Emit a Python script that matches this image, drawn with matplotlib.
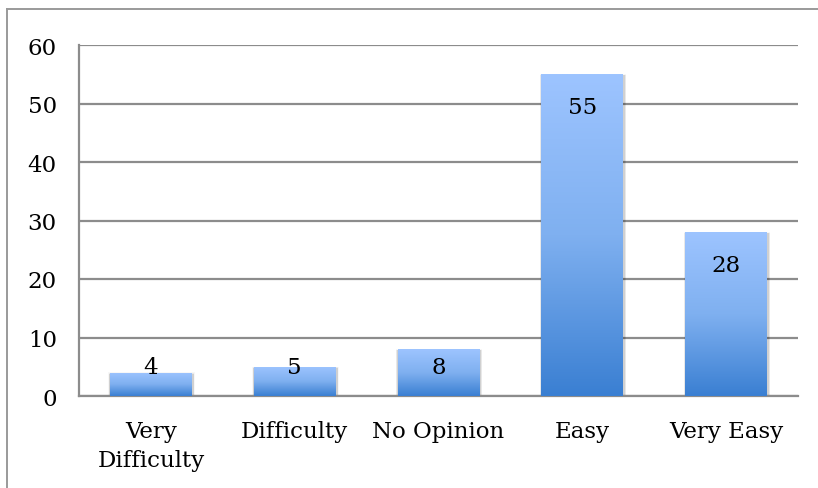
import numpy as np
import matplotlib
matplotlib.use("Agg")
import matplotlib.pyplot as plt
from matplotlib.colors import LinearSegmentedColormap
from matplotlib.lines import Line2D

categories = ["Very\nDifficulty", "Difficulty", "No Opinion", "Easy", "Very Easy"]
counts = [4, 5, 8, 55, 28]
yticks = [0, 10, 20, 30, 40, 50, 60]

plt.rcParams["font.family"] = ["DejaVu Serif"]
FS = 16.5

fig = plt.figure(figsize=(8.18, 4.89), dpi=100)
ax = fig.add_axes([79 / 818, 1 - 397 / 489, (798 - 79) / 818, (397 - 46) / 489])

grad = LinearSegmentedColormap.from_list("bar", ["#3a7fd2", "#7fb0f0", "#9dc4ff"])
x = np.arange(len(categories))
bars = ax.bar(x, counts, width=0.57, color="none", edgecolor="none", zorder=3)

# soft shadow + vertical gradient clipped to each bar
for b in bars:
    x0, w, h = b.get_x(), b.get_width(), b.get_height()
    for i, a in enumerate([0.10, 0.06, 0.03]):
        d = 0.012 * (i + 1)
        ax.add_patch(plt.Rectangle((x0 - d * 0.3, -0.1), w + d * 0.6 + 0.01, h - 0.15 + d * 8,
                                   color="black", alpha=a, lw=0, zorder=2))
    img = ax.imshow(np.linspace(0, 1, 256).reshape(-1, 1), cmap=grad, origin="lower",
                    extent=[x0, x0 + w, 0, h], aspect="auto", zorder=3)
    img.set_clip_path(b)

for xi, v in zip(x, counts):
    ax.text(xi, max(v - 5.6, 5), str(v), ha="center", va="center", fontsize=FS, zorder=5)

ax.set_xlim(-0.5, len(categories) - 0.5)
ax.set_ylim(0, 60)
ax.set_yticks(yticks)
ax.set_xticks(x)
ax.set_xticklabels(categories, fontsize=FS, linespacing=1.45)
ax.tick_params(axis="both", length=0, labelsize=FS)
ax.tick_params(axis="y", pad=16)
ax.tick_params(axis="x", pad=17)
ax.yaxis.grid(True, color="#8c8c8c", lw=1.6, zorder=1)
ax.set_axisbelow(True)
for s in ["top", "right"]:
    ax.spines[s].set_visible(False)
for s in ["left", "bottom"]:
    ax.spines[s].set_color("#8c8c8c")
    ax.spines[s].set_linewidth(1.6)

# outer chart frame (only top and left edges fall inside the image)
fig.add_artist(Line2D([7 / 818, 1.0], [1 - 10 / 489] * 2, transform=fig.transFigure,
                      color="#9a9a9a", lw=1.4))
fig.add_artist(Line2D([7 / 818] * 2, [0, 1 - 10 / 489], transform=fig.transFigure,
                      color="#9a9a9a", lw=1.4))

fig.savefig("out.png", dpi=100)
